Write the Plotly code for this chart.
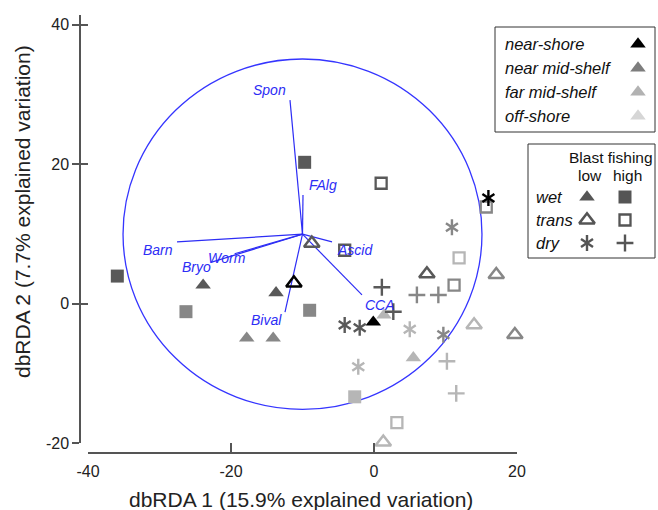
import plotly.graph_objects as go

# ---------------- data ----------------
pt_x = [-35.9, -9.7, -23.9, -13.7, -26.3, -9.0, -17.8, -14.1, -11.2, -8.7,
        -4.1, 1.0, 16.0, 15.7, 10.9, 11.9, 7.4, 17.1, 11.2, 1.1,
        6.0, 9.0, 2.7, 1.4, -0.1, -4.1, -2.0, 5.0, 9.7, 14.0,
        19.7, 5.5, 10.2, -2.2, 11.5, -2.7, 3.2, 1.3]
pt_y = [4.0, 20.3, 2.7, 1.6, -1.1, -0.9, -4.9, -4.9, 3.0, 8.7,
        7.7, 17.3, 15.2, 13.9, 11.0, 6.6, 4.3, 4.2, 2.7, 2.4,
        1.3, 1.3, -1.1, -1.6, -2.6, -3.0, -3.4, -3.6, -4.4, -3.0,
        -4.4, -7.7, -8.2, -9.0, -12.8, -13.3, -17.0, -19.8]
pt_region = ["NM", "NM", "NM", "NM", "FM", "FM", "FM", "FM", "NS", "NM",
             "NM", "NM", "NS", "FM", "FM", "OS", "NM", "FM", "FM", "NM",
             "FM", "FM", "NM", "OS", "NS", "NM", "NM", "OS", "FM", "OS",
             "FM", "OS", "OS", "OS", "OS", "OS", "OS", "OS"]
pt_habitat = ["wet", "wet", "wet", "wet", "wet", "wet", "wet", "wet", "trans", "trans",
              "trans", "trans", "dry", "trans", "dry", "trans", "trans", "trans", "trans", "dry",
              "dry", "dry", "dry", "wet", "wet", "dry", "dry", "dry", "dry", "trans",
              "trans", "wet", "dry", "dry", "dry", "wet", "trans", "trans"]
pt_fishing = ["high", "high", "low", "low", "high", "high", "low", "low", "low", "low",
              "high", "high", "low", "high", "low", "high", "low", "low", "high", "high",
              "high", "high", "high", "low", "low", "low", "low", "low", "low", "low",
              "low", "low", "high", "low", "high", "high", "high", "low"]

vec_names = ["Spon", "FAlg", "Barn", "Bryo", "Worm", "Ascid", "CCA", "Bival"]
vec_x = [-11.75, -9.93, -27.55, -22.7, -19.5, -5.87, -1.68, -12.45]
vec_y = [29.2, 15.6, 8.9, 6.0, 7.2, 8.9, 1.3, -1.15]
vec_origin = (-10.0, 10.0)
circle_radius = 25.1

region_names = ["near-shore", "near mid-shelf", "far mid-shelf", "off-shore"]
habitat_names = ["wet", "trans", "dry"]
fishing_names = ["low", "high"]
x_ticks = [-40, -20, 0, 20]
y_ticks = [-20, 0, 20, 40]
x_title = "dbRDA 1 (15.9% explained variation)"
y_title = "dbRDA 2 (7.7% explained variation)"

# ---------------- styles ----------------
W, H = 658, 510
region_color = {"NS": "#000000", "NM": "#595959", "FM": "#878787", "OS": "#b6b6b6"}
legend_tri_color = ["#000000", "#7d7d7d", "#b2b2b2", "#d6d6d6"]
BLUE = "#2d2df5"
AXC = "#555555"
FONT = "Arial, Liberation Sans, sans-serif"

def px_to_x(px):
    return -40 + (px - 88) / 7.15

def py_to_y(py):
    return (304 - py) / 6.98

fig = go.Figure()

# vectors
vx, vy = [], []
for ex, ey in zip(vec_x, vec_y):
    vx += [vec_origin[0], ex, None]
    vy += [vec_origin[1], ey, None]
fig.add_trace(go.Scatter(x=vx, y=vy, mode="lines", line=dict(color=BLUE, width=1.2),
                         hoverinfo="skip", showlegend=False))

def symbol_spec(hab, fish):
    if hab == "wet":
        return [("triangle-up", 13.5, 0)] if fish == "low" else [("square", 13, 0)]
    if hab == "trans":
        return [("triangle-up-open", 13.5, 2.5)] if fish == "low" else [("square-open", 11, 2.3)]
    if fish == "low":
        return [("y-up-open", 10, 2.4), ("y-down-open", 10, 2.4)]
    return [("cross-thin-open", 12, 2.4)]

for reg in ["OS", "FM", "NM", "NS"]:
    for hab in habitat_names:
        for fish in fishing_names:
            idx = [i for i in range(len(pt_x)) if pt_region[i] == reg and
                   pt_habitat[i] == hab and pt_fishing[i] == fish]
            if not idx:
                continue
            for sym, size, lw in symbol_spec(hab, fish):
                c = region_color[reg]
                fig.add_trace(go.Scatter(
                    x=[pt_x[i] for i in idx], y=[pt_y[i] for i in idx], mode="markers",
                    marker=dict(symbol=sym, size=size, color=c,
                                line=dict(color=c, width=lw)),
                    hoverinfo="skip", showlegend=False))

# legend markers on pixel overlay axes
leg1_y = [44, 68, 92, 116]
fig.add_trace(go.Scatter(x=[638] * 4, y=leg1_y, xaxis="x2", yaxis="y2", mode="markers",
                         marker=dict(symbol="triangle-up", size=13.5, color=legend_tri_color),
                         hoverinfo="skip", showlegend=False))
leg2_rows = [197, 220, 243]
LC = "#555555"
for r, hab in enumerate(habitat_names):
    for c, fish in enumerate(fishing_names):
        for sym, size, lw in symbol_spec(hab, fish):
            fig.add_trace(go.Scatter(x=[587 if c == 0 else 625], y=[leg2_rows[r]],
                                     xaxis="x2", yaxis="y2", mode="markers",
                                     marker=dict(symbol=sym, size=size, color=LC,
                                                 line=dict(color=LC, width=lw)),
                                     hoverinfo="skip", showlegend=False))

fig.add_trace(go.Scatter(x=[None], y=[None], xaxis="x3", yaxis="y3", showlegend=False, hoverinfo="skip"))
fig.add_trace(go.Scatter(x=[None], y=[None], xaxis="x3", yaxis="y4", showlegend=False, hoverinfo="skip"))

shapes = [
    dict(type="circle", xref="x", yref="y",
         x0=vec_origin[0] - circle_radius, x1=vec_origin[0] + circle_radius,
         y0=vec_origin[1] - circle_radius, y1=vec_origin[1] + circle_radius,
         line=dict(color="#3535ff", width=1.3), layer="below"),
    dict(type="rect", xref="x2", yref="y2", x0=495, x1=655, y0=27, y1=132,
         line=dict(color="#333333", width=1)),
    dict(type="rect", xref="x2", yref="y2", x0=528, x1=655, y0=144, y1=258,
         line=dict(color="#333333", width=1)),
]

ann = []
lab_pos = {"Spon": (-14.55, 30.6), "FAlg": (-7.2, 17.0), "Barn": (-30.2, 7.7),
           "Bryo": (-24.8, 5.3), "Worm": (-20.6, 6.6), "Ascid": (-2.7, 7.7),
           "CCA": (0.8, -0.15), "Bival": (-15.0, -2.3)}
for n in vec_names:
    lx, ly = lab_pos[n]
    ann.append(dict(x=lx, y=ly, xref="x", yref="y", text="<i>%s</i>" % n, showarrow=False,
                    font=dict(family=FONT, size=14, color=BLUE)))
for name, yy in zip(region_names, leg1_y):
    ann.append(dict(x=503, y=yy, xref="x2", yref="y2", xanchor="left", text="<i>%s</i>" % name,
                    showarrow=False, font=dict(family=FONT, size=16.5, color="#111111")))
ann.append(dict(x=611, y=157, xref="x2", yref="y2", text="Blast fishing", showarrow=False,
                font=dict(family=FONT, size=15.5, color="#111111")))
ann.append(dict(x=590, y=175, xref="x2", yref="y2", text="low", showarrow=False,
                font=dict(family=FONT, size=15.5, color="#111111")))
ann.append(dict(x=627, y=175, xref="x2", yref="y2", text="high", showarrow=False,
                font=dict(family=FONT, size=15.5, color="#111111")))
for name, yy in zip(habitat_names, leg2_rows):
    ann.append(dict(x=534, y=yy, xref="x2", yref="y2", xanchor="left", text="<i>%s</i>" % name,
                    showarrow=False, font=dict(family=FONT, size=16.5, color="#111111")))
ann.append(dict(x=301, y=499, xref="x2", yref="y2", text=x_title, showarrow=False,
                font=dict(family=FONT, size=21, color="#222222")))
ann.append(dict(x=22, y=212, xref="x2", yref="y2", text=y_title, showarrow=False, textangle=-90,
                font=dict(family=FONT, size=21, color="#222222")))

hidden = dict(visible=False, showgrid=False, zeroline=False, fixedrange=True, automargin=False)
fig.update_layout(
    width=W, height=H, margin=dict(l=0, r=0, t=0, b=0, pad=0, autoexpand=False),
    paper_bgcolor="white", plot_bgcolor="rgba(0,0,0,0)",
    xaxis=dict(domain=[0, 1], range=[px_to_x(0), px_to_x(W)], **hidden),
    yaxis=dict(domain=[0, 1], range=[py_to_y(H), py_to_y(0)], **hidden),
    xaxis2=dict(domain=[0, 1], range=[0, W], anchor="y2", overlaying="x", **hidden),
    yaxis2=dict(domain=[0, 1], range=[H, 0], anchor="x2", overlaying="y", **hidden),
    xaxis3=dict(domain=[88 / W, 517 / W], range=[-40, 20], anchor="free", position=1 - 453 / H,
                showline=True, linecolor=AXC, linewidth=1.5, ticks="inside", ticklen=9,
                tickwidth=1.5, tickcolor=AXC, tickvals=x_ticks, ticktext=[str(v) for v in x_ticks],
                tickfont=dict(family=FONT, size=16, color="#222222"), showgrid=False,
                zeroline=False, ticklabelstandoff=4, automargin=False, fixedrange=True),
    yaxis3=dict(domain=[1 - 443 / H, 1 - 15 / H], range=[-20, py_to_y(15)], anchor="free",
                position=80 / W, showline=True, linecolor=AXC, linewidth=1.5, ticks="outside",
                ticklen=7, tickwidth=1.5, tickcolor=AXC, tickvals=y_ticks,
                ticktext=[str(v) for v in y_ticks], automargin=False, fixedrange=True,
                tickfont=dict(family=FONT, size=16, color="#222222"), showgrid=False, zeroline=False),
    yaxis4=dict(domain=[1 - 443 / H, 1 - 15 / H], range=[-20, py_to_y(15)], anchor="free",
                position=80 / W, showline=False, ticks="inside", ticklen=7, tickwidth=1.5,
                tickcolor=AXC, tickvals=y_ticks, showticklabels=False, showgrid=False,
                zeroline=False, automargin=False, fixedrange=True),
    shapes=shapes, annotations=ann, showlegend=False,
)
fig.write_html(
    "out.html",
    config={"displayModeBar": False},
    post_script="document.body.style.margin='0';document.body.style.overflow='hidden';"
                "document.documentElement.style.overflow='hidden';",
)
